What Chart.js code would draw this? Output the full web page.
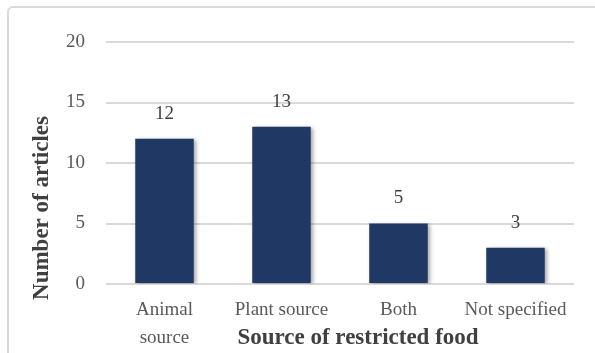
<!DOCTYPE html>
<html>
<head>
<meta charset="utf-8">
<script src="https://cdn.jsdelivr.net/npm/chart.js@4/dist/chart.umd.min.js"></script>
<style>
  html, body { margin: 0; padding: 0; background: #fff; }
  #wrap { position: relative; width: 595px; height: 353px; overflow: hidden; }
  #frame { position: absolute; left: 7px; top: 6px; width: 640px; height: 400px;
           border: 2px solid #d9d9d9; border-radius: 6px; box-sizing: border-box; }
  canvas { position: absolute; left: 0; top: 0; }
</style>
</head>
<body>
<div id="wrap">
  <div id="frame"></div>
  <canvas id="c" width="595" height="353"></canvas>
</div>
<script>
const categories = [['Animal', 'source'], 'Plant source', 'Both', 'Not specified'];
const articleCounts = [12, 13, 5, 3];
const yTicks = [0, 5, 10, 15, 20];
const xTitle = 'Source of restricted food';
const yTitle = 'Number of articles';

const FONT = "'Liberation Serif', 'Times New Roman', serif";

const valueLabels = {
  id: 'valueLabels',
  afterDatasetsDraw(chart) {
    const ctx = chart.ctx;
    const meta = chart.getDatasetMeta(0);
    ctx.save();
    ctx.font = "19px " + FONT;
    ctx.fillStyle = '#404040';
    ctx.textAlign = 'center';
    ctx.textBaseline = 'middle';
    meta.data.forEach((bar, i) => {
      ctx.fillText(String(articleCounts[i]), bar.x, bar.y - 25);
    });
    ctx.restore();
  }
};

const barShadow = {
  id: 'barShadow',
  beforeDatasetsDraw(chart) {
    const ctx = chart.ctx;
    ctx.save();
    ctx.shadowColor = 'rgba(0,0,0,0.35)';
    ctx.shadowBlur = 4;
    ctx.shadowOffsetX = 2;
    ctx.shadowOffsetY = 1;
  },
  afterDatasetsDraw(chart) {
    chart.ctx.restore();
  }
};

const axisTitles = {
  id: 'axisTitles',
  afterDraw(chart) {
    const ctx = chart.ctx;
    const a = chart.chartArea;
    ctx.save();
    ctx.font = "bold 23px " + FONT;
    ctx.fillStyle = '#404040';
    ctx.textAlign = 'center';
    ctx.textBaseline = 'middle';
    ctx.fillText(xTitle, (a.left + a.right) / 2 + 18, a.bottom + 54);
    ctx.translate(a.left - 64, a.bottom - 76);
    ctx.rotate(-Math.PI / 2);
    ctx.fillText(yTitle, 0, 0);
    ctx.restore();
  }
};

new Chart(document.getElementById('c'), {
  type: 'bar',
  data: {
    labels: categories,
    datasets: [{
      data: articleCounts,
      backgroundColor: '#1f3864',
      borderWidth: 0,
      barPercentage: 0.5,
      categoryPercentage: 1.0
    }]
  },
  options: {
    responsive: false,
    animation: false,
    devicePixelRatio: 1,
    layout: { padding: { top: 42, right: 21, left: 0, bottom: 0 } },
    plugins: { legend: { display: false }, tooltip: { enabled: false } },
    scales: {
      x: {
        grid: { display: false, drawTicks: false },
        border: { display: false },
        ticks: {
          padding: 12,
          maxRotation: 0,
          autoSkip: false,
          color: '#595959',
          font: { family: FONT, size: 19, lineHeight: '28px' }
        },
        afterFit(scale) { scale.height = 69; }
      },
      y: {
        min: 0,
        max: 20,
        afterBuildTicks(scale) { scale.ticks = yTicks.map(v => ({ value: v })); },
        grid: { color: '#d9d9d9', lineWidth: 2, drawTicks: false },
        border: { display: false },
        ticks: {
          padding: 21,
          color: '#595959',
          font: { family: FONT, size: 19 }
        },
        afterFit(scale) { scale.width = 106; }
      }
    }
  },
  plugins: [barShadow, valueLabels, axisTitles]
});
</script>
</body>
</html>
